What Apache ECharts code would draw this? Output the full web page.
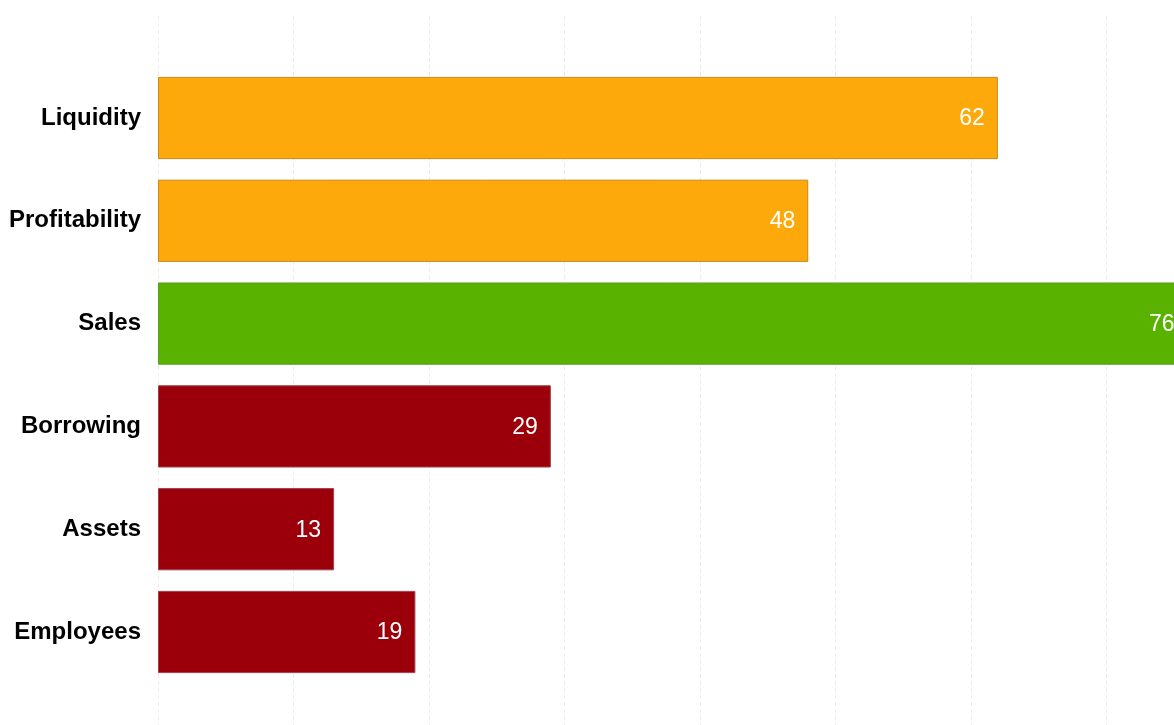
<!DOCTYPE html>
<html>
<head>
<meta charset="utf-8">
<script src="https://cdn.jsdelivr.net/npm/echarts@6/dist/echarts.min.js"></script>
<style>html,body{margin:0;padding:0;background:#fff}#c{width:1174px;height:725px}</style>
</head>
<body>
<div id="c"></div>
<script>
const categories = ['Liquidity', 'Profitability', 'Sales', 'Borrowing', 'Assets', 'Employees'];
const values = [62, 48, 76, 29, 13, 19];
const status = ['warn', 'warn', 'good', 'bad', 'bad', 'bad'];
const xTicks = [0, 10, 20, 30, 40, 50, 60, 70];

const fills = { warn: '#FEA90B', good: '#5AB200', bad: '#9B000A' };
const borders = { warn: '#C98A1C', good: '#5A9E2A', bad: '#A0404A' };

const chart = echarts.init(document.getElementById('c'), null, { renderer: 'canvas' });
const xMin = xTicks[0], xInt = xTicks[1] - xTicks[0];
const xMax = 75; // visible end of the (cropped) panel
const FONT = "'Liberation Sans', Arial, sans-serif";

chart.setOption({
  animation: false,
  backgroundColor: '#ffffff',
  grid: [
    { left: 158, right: 0, top: 16, bottom: 0 },
    { left: 158, right: 0, top: 66.6, bottom: 41.6 }
  ],
  xAxis: [
    {
      gridIndex: 0, type: 'value', min: xMin, max: xMax, interval: xInt,
      axisLine: { show: false }, axisTick: { show: false }, axisLabel: { show: false },
      splitLine: { show: true, showMaxLine: false, lineStyle: { color: '#ececec', width: 1, type: [4, 3] } }
    },
    {
      gridIndex: 1, type: 'value', min: xMin, max: xMax, interval: xInt,
      axisLine: { show: false }, axisTick: { show: false }, axisLabel: { show: false },
      splitLine: { show: false }
    }
  ],
  yAxis: [
    { gridIndex: 0, type: 'value', show: false },
    {
      gridIndex: 1, type: 'category', data: categories, inverse: true,
      axisLine: { show: false }, axisTick: { show: false },
      axisLabel: { color: '#000', fontSize: 24, fontWeight: 'bold', fontFamily: FONT, margin: 17, padding: [2, 0, 0, 0] },
      splitLine: { show: false }
    }
  ],
  series: [{
    type: 'bar',
    xAxisIndex: 1, yAxisIndex: 1,
    barWidth: '80%',
    clip: false,
    data: values.map((v, i) => ({
      value: v,
      itemStyle: { color: fills[status[i]], borderColor: borders[status[i]], borderWidth: 1 }
    })),
    label: {
      show: true, position: 'insideRight', distance: 13, offset: [0, 1],
      color: '#fff', fontSize: 23, fontFamily: FONT
    }
  }]
});
</script>
</body>
</html>
